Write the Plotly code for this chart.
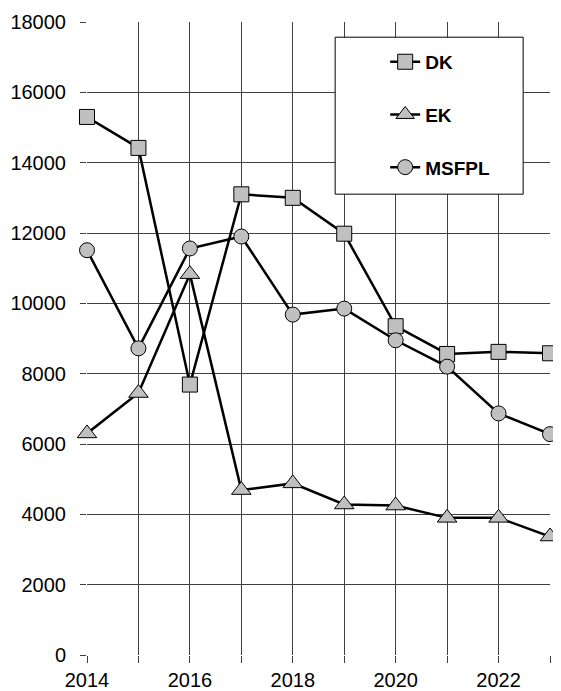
import plotly.graph_objects as go

years = [2014, 2015, 2016, 2017, 2018, 2019, 2020, 2021, 2022, 2023]
dk = [15300, 14420, 7690, 13100, 13000, 11980, 9350, 8560, 8620, 8580]
ek = [6300, 7450, 10830, 4690, 4880, 4280, 4250, 3900, 3900, 3370]
msfpl = [11510, 8720, 11560, 11900, 9680, 9850, 8950, 8200, 6870, 6280]
series_names = ["DK", "EK", "MSFPL"]
y_ticks = [0, 2000, 4000, 6000, 8000, 10000, 12000, 14000, 16000, 18000]
y_tick_labels = [str(v) for v in y_ticks]
x_tick_labels = [str(y) if y % 2 == 0 else "" for y in years]

symbols = ["square", "triangle-up", "circle"]
sizes = [15, 17, 15]
fig = go.Figure()
for name, vals, sym, sz in zip(series_names, [dk, ek, msfpl], symbols, sizes):
    fig.add_trace(go.Scatter(
        x=years, y=vals, name=name, mode="lines+markers",
        legendgroup=name, cliponaxis=False,
        line=dict(color="black", width=2.5),
        marker=dict(symbol=sym, size=sz, color="#c0c0c0",
                    line=dict(color="black", width=1)),
    ))

grid = "#404040"
fig.update_layout(
    width=553, height=683,
    margin=dict(l=79, r=11, t=14, b=36, autoexpand=False),
    paper_bgcolor="white", plot_bgcolor="white",
    font=dict(family="Arial, Liberation Sans, sans-serif", size=20, color="black"),
    xaxis=dict(range=[2014, 2023], tickvals=years, ticktext=x_tick_labels,
               showgrid=True, gridcolor=grid, gridwidth=1,
               ticks="outside", ticklen=7, tickcolor=grid,
               showline=False, zeroline=False, fixedrange=True,
               automargin=False),
    yaxis=dict(range=[0, 18000], tickvals=y_ticks, ticktext=y_tick_labels,
               showgrid=True, gridcolor=grid, gridwidth=1,
               ticks="outside", ticklen=6, tickcolor=grid,
               ticklabelstandoff=10,
               showline=False, zeroline=False, fixedrange=True,
               automargin=False),
    showlegend=True,
    legend=dict(x=0.644, y=0.967, xanchor="left", yanchor="top",
                bgcolor="rgba(0,0,0,0)", borderwidth=0,
                font=dict(size=19, family="Arial, Liberation Sans, sans-serif",
                          color="black", weight="bold"),
                tracegroupgap=25, itemwidth=30),
    shapes=[dict(type="rect", xref="paper", yref="paper",
                 x0=0.536, x1=0.942, y0=0.728, y1=0.976,
                 fillcolor="white", line=dict(color="black", width=1),
                 layer="above")],
)
fig.write_html("out.html")
